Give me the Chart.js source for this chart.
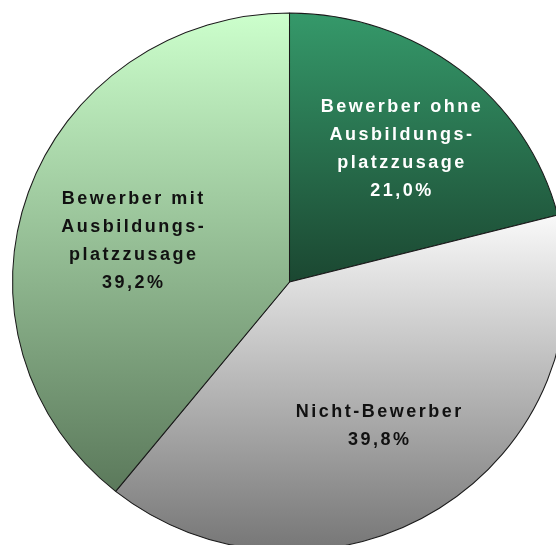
<!DOCTYPE html>
<html>
<head>
<meta charset="utf-8">
<script src="https://cdn.jsdelivr.net/npm/chart.js@4.4.1/dist/chart.umd.min.js"></script>
<style>
  html, body { margin: 0; padding: 0; background: #fff; overflow: hidden; }
  #pieChart { position: absolute; left: 0; top: 0; }
</style>
</head>
<body>
<canvas id="pieChart" width="600" height="600"></canvas>
<script>
// slices clockwise from 12 o'clock
const categories = [
  ['Bewerber ohne', 'Ausbildungs-', 'platzzusage'],
  ['Nicht-Bewerber'],
  ['Bewerber mit', 'Ausbildungs-', 'platzzusage']
];
const shares = [21.0, 39.8, 39.2];
const shareTexts = ['21,0%', '39,8%', '39,2%'];

const sliceColors = [
  ['#35996a', '#1b4731'],
  ['#f9f9f9', '#767676'],
  ['#ccffcc', '#5b795b']
];
const textColors = ['#ffffff', '#111111', '#111111'];

// vertical gradient over the height of each slice
function sliceGradient(context) {
  const chart = context.chart;
  const area = chart.chartArea;
  const i = context.dataIndex;
  if (!area) return sliceColors[i][0];
  const cx = (area.left + area.right) / 2;
  const cy = (area.top + area.bottom) / 2;
  const r = (Math.min(area.width, area.height) - 1) / 2;
  const total = shares.reduce((a, b) => a + b, 0);
  let before = 0;
  for (let k = 0; k < i; k++) before += shares[k];
  const a0 = -Math.PI / 2 + before / total * 2 * Math.PI;
  const a1 = a0 + shares[i] / total * 2 * Math.PI;
  const ys = [cy, cy + r * Math.sin(a0), cy + r * Math.sin(a1)];
  [-Math.PI / 2, Math.PI / 2, 3 * Math.PI / 2].forEach(a => {
    if (a >= a0 && a <= a1) ys.push(cy + r * Math.sin(a));
  });
  const g = chart.ctx.createLinearGradient(0, Math.min(...ys), 0, Math.max(...ys));
  g.addColorStop(0, sliceColors[i][0]);
  g.addColorStop(1, sliceColors[i][1]);
  return g;
}

// the original pie is a little wider than high
const stretchPie = {
  id: 'stretchPie',
  beforeDatasetsDraw(chart, args, opts) {
    const a = chart.chartArea;
    const cx = (a.left + a.right) / 2;
    chart.ctx.save();
    chart.ctx.translate(cx, 0);
    chart.ctx.scale(opts.x, 1);
    chart.ctx.translate(-cx, 0);
  },
  afterDatasetsDraw(chart) {
    chart.ctx.restore();
  }
};

const sliceLabels = {
  id: 'sliceLabels',
  afterDraw(chart, args, opts) {
    const c = chart.ctx;
    const meta = chart.getDatasetMeta(0);
    meta.data.forEach((arc, i) => {
      const p = arc.getProps(['x', 'y', 'startAngle', 'endAngle', 'outerRadius']);
      const mid = (p.startAngle + p.endAngle) / 2;
      const rr = p.outerRadius * opts.radius;
      const x = p.x + Math.cos(mid) * rr * opts.stretchX + opts.shift[i][0];
      const y = p.y + Math.sin(mid) * rr + opts.shift[i][1];
      const lines = categories[i].concat([shareTexts[i]]);
      c.save();
      c.font = 'bold 18px "Liberation Sans", Arial, sans-serif';
      c.letterSpacing = opts.spacing + 'px';
      c.fillStyle = textColors[i];
      c.textAlign = 'center';
      c.textBaseline = 'middle';
      const top = y - (lines.length - 1) * opts.lineHeight / 2;
      lines.forEach((t, k) => {
        c.fillText(t, x + opts.spacing / 2, top + k * opts.lineHeight);
      });
      c.restore();
    });
  }
};

new Chart(document.getElementById('pieChart'), {
  type: 'pie',
  data: {
    labels: categories.map(l => l.join(' ')),
    datasets: [{
      data: shares,
      backgroundColor: sliceGradient,
      borderColor: '#1a1a1a',
      borderWidth: 1,
      clip: false
    }]
  },
  options: {
    responsive: false,
    animation: false,
    events: [],
    layout: { padding: { left: 20, top: 12.5, right: 41, bottom: 48.5 } },
    plugins: {
      legend: { display: false },
      tooltip: { enabled: false },
      stretchPie: { x: 277 / 269 },
      sliceLabels: {
        radius: 0.62,
        stretchX: 277 / 269,
        spacing: 2.5,
        lineHeight: 28,
        shift: [[6, -1], [-4, 4], [5, 15]]
      }
    }
  },
  plugins: [stretchPie, sliceLabels]
});
</script>
</body>
</html>
